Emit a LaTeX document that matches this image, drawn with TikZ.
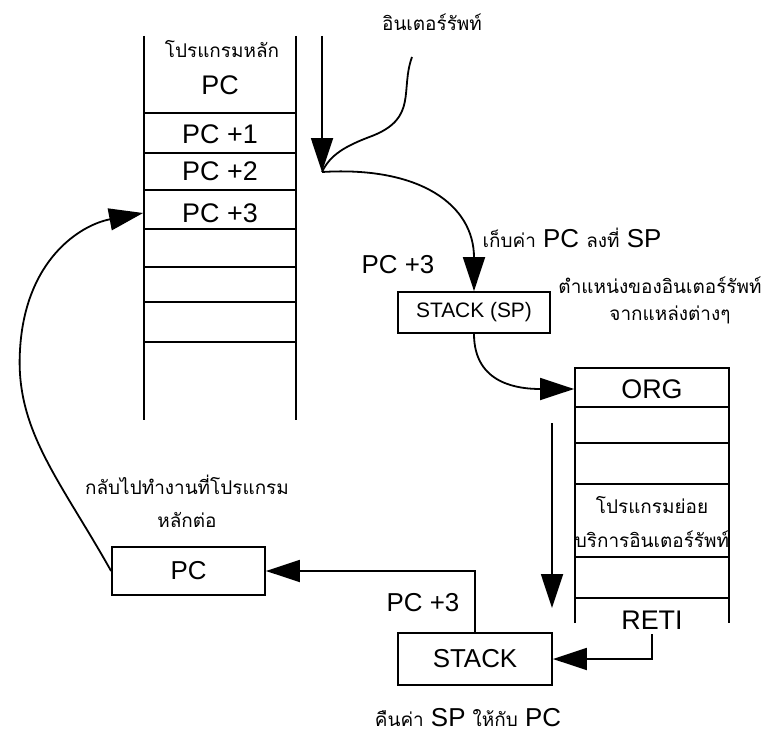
\documentclass[tikz,border=0pt]{standalone}
\usepackage{fontspec}
\setmainfont{Liberation Sans}
\newfontfamily\thai[Script=Thai]{Loma}
\usetikzlibrary{arrows.meta, positioning, calc}
\newcommand{\thtxt}[1]{{\thai\fontsize{19}{22}\selectfont #1}}
\tikzset{
  cell/.style={minimum width=#1, inner sep=0pt, font=\fontsize{27}{30}\selectfont},
  cell/.default=152bp,
  box/.style={draw, minimum width=#1, inner sep=0pt},
  big/.style={inner sep=0pt, font=\fontsize{26}{30}\selectfont},
  th/.style={inner sep=0pt, font=\thai\fontsize{19}{22}\selectfont},
  arr/.style={-{Triangle[length=34bp,width=22bp]}}
}

\begin{document}
\begin{tikzpicture}[x=1bp, y=-1bp, line width=1.8bp]
  \useasboundingbox (0,0) rectangle (767,736);
  % main program
  \draw (144,36) -- (144,420) (296,36) -- (296,420);
  \foreach \y in {113,153,190,229,267,302,342}
    \draw (144,\y) -- (296,\y);
  \node[th] (mainlab) at (222,49) {โปรแกรมหลัก};
  \node[cell] (pc) at (220,85) {PC};
  \node[cell] (pc1) at (220,134) {PC +1};
  \node[cell] (pc2) at (220,171) {PC +2};
  \node[cell] (pc3) at (220,213) {PC +3};

  % interrupt comes in
  \node[th] (intlab) at (432,22) {อินเตอร์รัพท์};
  \coordinate (vtop) at (322,36);
  \coordinate (hit) at (322,172);
  \coordinate (wtop) at (412,57);
  \draw[arr] (vtop) -- (hit);
  \draw (wtop) .. controls (400,90) and (418,118) .. (372,136)
    .. controls (345,146) and (330,155) .. (hit);

  % push PC
  \node[box=152bp, minimum height=41bp, font=\fontsize{21}{24}\selectfont] (stsp) at (474,312.5) {STACK (SP)};
  \draw[arr] (hit) .. controls (420,166) and (474,205) .. (stsp.north);
  \node[big] (pushlab) at (572,238) {\thtxt{เก็บค่า} PC \thtxt{ลงที่} SP};
  \node[big] (pclab1) at (398,265) {PC +3};

  % interrupt service routine
  \draw (575,623) -- (575,368) -- (729,368) -- (729,623);
  \foreach \y in {407,443,484,557,598}
    \draw (575,\y) -- (729,\y);
  \node[th] (veclab1) at (660,285) {ตำแหน่งของอินเตอร์รัพท์};
  \node[th] (veclab2) at (670,315) {จากแหล่งต่างๆ};
  \node[cell=154bp] (org) at (652,389) {ORG};
  \node[th] (sub1) at (652,505) {โปรแกรมย่อย};
  \node[th] (sub2) at (652,539) {บริการอินเตอร์รัพท์};
  \node[cell=154bp, inner sep=4bp] (reti) at (652,620) {RETI};
  \draw[arr] (stsp.south) .. controls (474,385) and (520,389) .. (org.west);
  \coordinate (runtop) at (552,423);
  \coordinate (runend) at (552,608);
  \draw[arr] (runtop) -- (runend);

  % return
  \node[box=154bp, minimum height=52bp, big] (stk) at (475,659) {STACK};
  \node[box=153bp, minimum height=48bp, big] (pcbox) at (188.5,571) {PC};
  \draw[arr] (reti.south) |- (stk.east);
  \draw[arr] (stk.north) |- (pcbox.east);
  \node[big] (pclab2) at (423,603) {PC +3};
  \node[th] (backlab1) at (187,485) {กลับไปทำงานที่โปรแกรม};
  \node[th] (backlab2) at (187,520) {หลักต่อ};
  \draw[arr] (pcbox.west) .. controls (60,480) and (15,430) .. (20,350)
    .. controls (25,260) and (80,225) .. (pc3.west);
  \node[big] (poplab) at (468,718) {\thtxt{คืนค่า} SP \thtxt{ให้กับ} PC};
\end{tikzpicture}
\end{document}
